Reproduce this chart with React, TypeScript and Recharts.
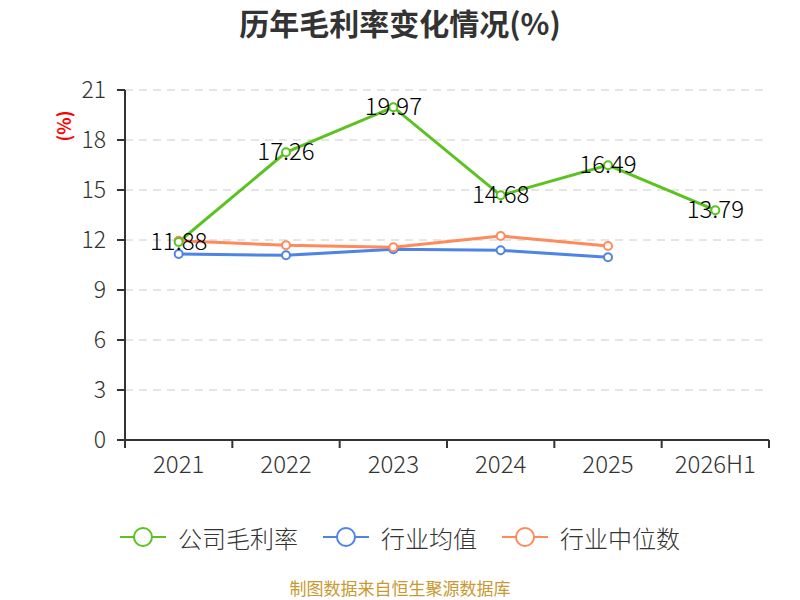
import React from 'react';
import { LineChart, Line, XAxis, YAxis, CartesianGrid, Legend, LabelList } from 'recharts';

const categories = ['2021', '2022', '2023', '2024', '2025', '2026H1'];
const companyMargin = [11.88, 17.26, 19.97, 14.68, 16.49, 13.79];
const industryMean = [11.16, 11.08, 11.44, 11.38, 10.96, null];
const industryMedian = [11.95, 11.68, 11.56, 12.24, 11.64, null];
const yTicks = [0, 3, 6, 9, 12, 15, 18, 21];

const seriesNames = ['公司毛利率', '行业均值', '行业中位数'];
const seriesColors = ['#5bc21f', '#4e84e6', '#ff8a5b'];

const data = categories.map((c, i) => ({
  name: c,
  company: companyMargin[i],
  mean: industryMean[i],
  median: industryMedian[i],
}));

const FONT = '"Noto Sans CJK SC", "Noto Sans", sans-serif';

const XTick = (props: any) => {
  const { x, y, payload, index, visibleTicksCount } = props;
  const off = payload && payload.offset ? payload.offset : 0;
  const last = index === (visibleTicksCount ?? categories.length) - 1;
  return (
    <g>
      <line x1={x - off} x2={x - off} y1={y - 8} y2={y} stroke="#333" strokeWidth={2} />
      {last && <line x1={x + off} x2={x + off} y1={y - 8} y2={y} stroke="#333" strokeWidth={2} />}
      <text x={x} y={y + 25} textAnchor="middle" fill="#333" fontSize={24} fontWeight={300} fontFamily={FONT}>
        {payload.value}
      </text>
    </g>
  );
};

const ValueLabel = (props: any) => {
  const { x, y, value } = props;
  if (value == null) return null;
  return (
    <text x={x} y={y - 3} textAnchor="middle" dominantBaseline="central" fill="#000" fontSize={24} fontWeight={300} fontFamily={FONT}>
      {Number(value).toFixed(2)}
    </text>
  );
};

const LegendContent = () => (
  <div style={{ display: 'flex', justifyContent: 'center', alignItems: 'center', height: 30, fontFamily: FONT }}>
    {seriesNames.map((n, i) => (
      <div key={n} style={{ display: 'flex', alignItems: 'center', marginLeft: i === 0 ? 0 : 25 }}>
        <svg width={46} height={24}>
          <line x1={0} x2={46} y1={12} y2={12} stroke={seriesColors[i]} strokeWidth={2} />
          <circle cx={23} cy={12} r={9} fill="#fff" stroke={seriesColors[i]} strokeWidth={2} />
        </svg>
        <span style={{ marginLeft: 12, fontSize: 24, fontWeight: 300, color: '#333' }}>{n}</span>
      </div>
    ))}
  </div>
);

const YLabel = (props: any) => {
  const vb = props.viewBox || { x: 0, y: 90 };
  const cx = vb.x + 63;
  const cy = vb.y + 36;
  return (
    <text x={cx} y={cy} transform={`rotate(-90 ${cx} ${cy})`} textAnchor="middle" dominantBaseline="central" fill="#ff0000" fontSize={18} fontWeight="bold" fontFamily={FONT}>
      (%)
    </text>
  );
};

export default function App() {
  return (
    <div style={{ position: 'absolute', left: 0, top: 0, width: 800, height: 600, background: '#fff', fontFamily: FONT }}>
      <div style={{ position: 'absolute', left: 0, top: 4, width: 800, textAlign: 'center', fontSize: 30, fontWeight: 'bold', color: '#333', lineHeight: '36px' }}>
        历年毛利率变化情况(%)
      </div>
      <LineChart width={800} height={600} data={data} margin={{ top: 90, right: 31, left: 0, bottom: 100 }}>
        <CartesianGrid vertical={false} stroke="#ccc" strokeDasharray="8 6" horizontalValues={[3, 6, 9, 12, 15, 18, 21]} />
        <XAxis dataKey="name" scale="band" axisLine={{ stroke: '#333', strokeWidth: 2 }} tickLine={false} tick={<XTick />} height={30} interval={0} />
        <YAxis
          width={125}
          domain={[0, 21]}
          ticks={yTicks}
          interval={0}
          axisLine={{ stroke: '#333', strokeWidth: 2 }}
          tickLine={{ stroke: '#333', strokeWidth: 2 }}
          tickSize={8}
          tickMargin={11}
          tick={{ fill: '#333', fontSize: 23, fontWeight: 300, fontFamily: FONT }}
          label={<YLabel />}
        />
        <Legend verticalAlign="bottom" content={<LegendContent />} wrapperStyle={{ position: 'absolute', top: 522, left: 0, width: 800, bottom: 'auto' }} />
        <Line name={seriesNames[1]} dataKey="mean" stroke={seriesColors[1]} strokeWidth={3} dot={{ r: 4, fill: '#fff', stroke: seriesColors[1], strokeWidth: 2 }} isAnimationActive={false} />
        <Line name={seriesNames[2]} dataKey="median" stroke={seriesColors[2]} strokeWidth={3} dot={{ r: 4, fill: '#fff', stroke: seriesColors[2], strokeWidth: 2 }} isAnimationActive={false} />
        <Line name={seriesNames[0]} dataKey="company" stroke={seriesColors[0]} strokeWidth={3} dot={{ r: 4, fill: '#fff', stroke: seriesColors[0], strokeWidth: 2 }} isAnimationActive={false}>
          <LabelList dataKey="company" content={<ValueLabel />} />
        </Line>
      </LineChart>
      <div style={{ position: 'absolute', left: 0, top: 579, width: 800, textAlign: 'center', fontSize: 17, color: '#c9992f', lineHeight: '18px' }}>
        制图数据来自恒生聚源数据库
      </div>
    </div>
  );
}
